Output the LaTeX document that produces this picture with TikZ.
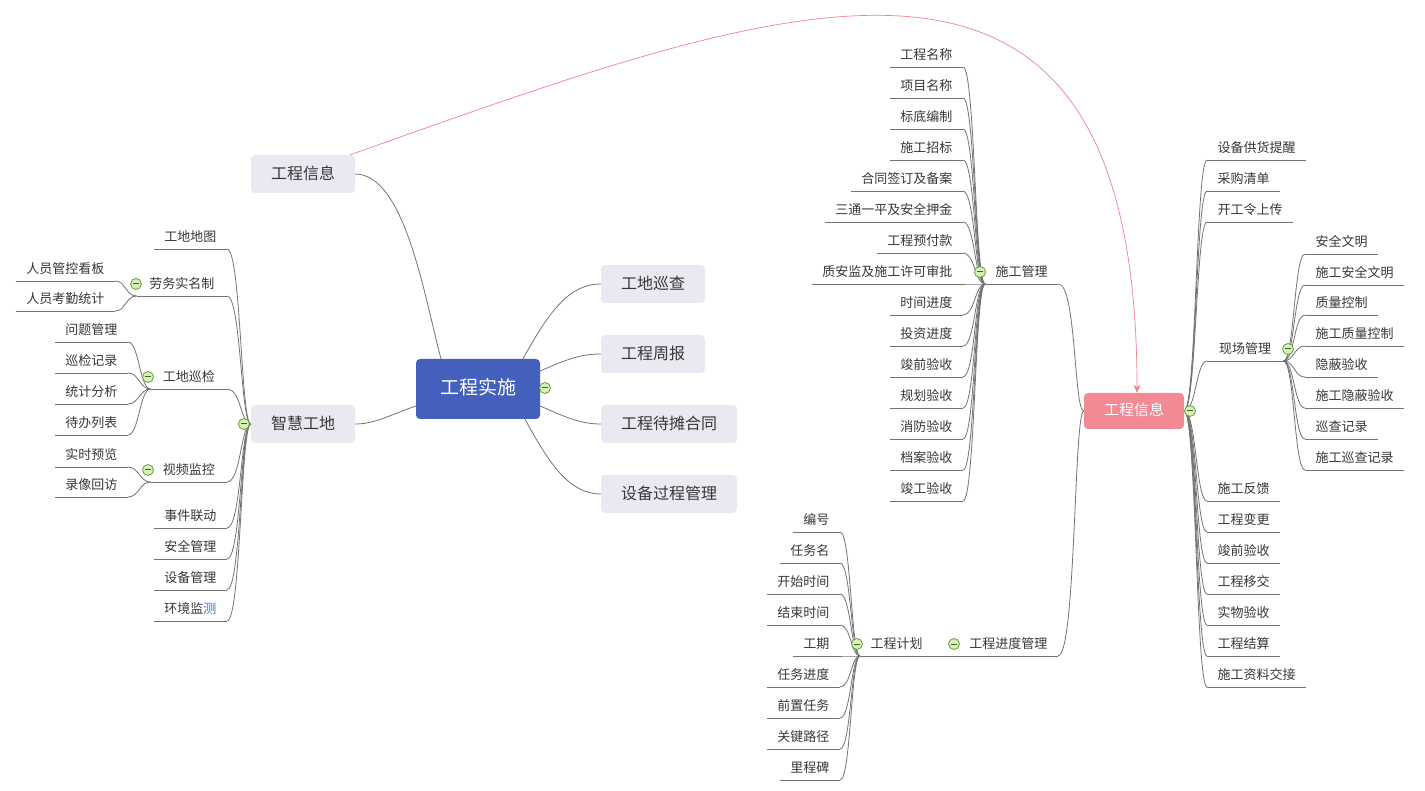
\documentclass[tikz,border=0pt]{standalone}
\usepackage{fontspec}
\newfontfamily\cjk{Noto Sans CJK SC}
\usetikzlibrary{arrows.meta}
\definecolor{linec}{RGB}{115,115,115}
\definecolor{txt}{RGB}{55,55,55}
\definecolor{lav}{RGB}{233,233,242}
\definecolor{cblue}{RGB}{66,96,188}
\definecolor{pinkc}{RGB}{242,137,147}
\definecolor{relc}{RGB}{240,130,142}
\definecolor{mkd}{RGB}{100,165,40}
\definecolor{mkf}{RGB}{215,238,190}
\definecolor{mkl}{RGB}{60,100,35}
\definecolor{measblue}{RGB}{60,120,200}
\begin{document}
\begin{tikzpicture}[x=1pt,y=-1pt,
 ln/.style={draw=linec,line width=0.8pt},
 lf/.style={font=\cjk\fontsize{13}{15}\selectfont,text=txt,inner xsep=10.5pt,inner ysep=4.5pt,text height=10.5pt,text depth=2.5pt},
 lfl/.style={lf,anchor=south east},
 lfr/.style={lf,anchor=south west},
 topic/.style={font=\cjk\fontsize{16}{18}\selectfont,text=txt,fill=lav,rounded corners=4pt,minimum height=38pt,inner xsep=20pt,inner ysep=0pt,text height=13.5pt,text depth=2.5pt},
 mk/.style={circle,draw=mkd,fill=mkf,line width=0.8pt,minimum size=11pt,inner sep=0pt,
   path picture={\draw[mkl,line width=1pt] ([xshift=-3pt]path picture bounding box.center) -- ([xshift=3pt]path picture bounding box.center);}},
]
\path[use as bounding box,fill=white] (0,0) rectangle (1425,791);

% central and main topics
\node[font=\cjk\fontsize{19}{21}\selectfont,text=white,fill=cblue,rounded corners=4pt,minimum width=124pt,minimum height=60pt,inner sep=0pt,text height=14pt,text depth=3pt] (c) at (478,389) {工程实施};
\node[topic] (i1) at (303,174) {工程信息};
\node[topic] (zh) at (303,424) {智慧工地};
\node[topic] (g1) at (653,284) {工地巡查};
\node[topic] (g2) at (653,354) {工程周报};
\node[topic] (g3) at (669,424) {工程待摊合同};
\node[topic] (g4) at (669,494) {设备过程管理};
\node[font=\cjk\fontsize{15}{17}\selectfont,text=white,fill=pinkc,rounded corners=4pt,minimum width=100pt,minimum height=36pt,inner sep=0pt,text height=12.5pt,text depth=2.5pt] (p) at (1134,411) {工程信息};

% 智慧工地 subtree
\node[lfl] (zl1) at (227,249) {工地地图};
\node[lfl,inner xsep=12.5pt] (zl2) at (227,296) {劳务实名制};
\node[lfl,inner xsep=12pt] (zl3) at (227,389) {工地巡检};
\node[lfl,inner xsep=12pt] (zl4) at (227,482) {视频监控};
\node[lfl] (zl5) at (227,528) {事件联动};
\node[lfl] (zl6) at (227,559) {安全管理};
\node[lfl] (zl7) at (227,590) {设备管理};
\node[lfl] (zl8) at (227,621) {环境监{\color{measblue}测}};
\node[lfl] (a1) at (115,281) {人员管控看板};
\node[lfl] (a2) at (115,311) {人员考勤统计};
\node[lfl] (b1) at (128,342) {问题管理};
\node[lfl] (b2) at (128,373) {巡检记录};
\node[lfl] (b3) at (128,404) {统计分析};
\node[lfl] (b4) at (128,435) {待办列表};
\node[lfl] (v1) at (128,467) {实时预览};
\node[lfl] (v2) at (128,497) {录像回访};

% 施工管理 subtree
\node[lfr] (sg) at (985,284) {施工管理};
\node[lfl] (s1) at (963,67) {工程名称};
\node[lfl] (s2) at (963,98) {项目名称};
\node[lfl] (s3) at (963,129) {标底编制};
\node[lfl] (s4) at (963,160) {施工招标};
\node[lfl] (s5) at (963,191) {合同签订及备案};
\node[lfl] (s6) at (963,222) {三通一平及安全押金};
\node[lfl] (s7) at (963,253) {工程预付款};
\node[lfl] (s8) at (963,284) {质安监及施工许可审批};
\node[lfl] (s9) at (963,315) {时间进度};
\node[lfl] (s10) at (963,346) {投资进度};
\node[lfl] (s11) at (963,377) {竣前验收};
\node[lfl] (s12) at (963,408) {规划验收};
\node[lfl] (s13) at (963,439) {消防验收};
\node[lfl] (s14) at (963,470) {档案验收};
\node[lfl] (s15) at (963,501) {竣工验收};

% 工程进度管理 subtree
\node[lfl] (jd) at (1058,656) {工程进度管理};
\node[lfr] (jh) at (860,656) {工程计划};
\node[lfl] (t1) at (840,532) {编号};
\node[lfl] (t2) at (840,563) {任务名};
\node[lfl] (t3) at (840,594) {开始时间};
\node[lfl] (t4) at (840,625) {结束时间};
\node[lfl] (t5) at (840,656) {工期};
\node[lfl] (t6) at (840,687) {任务进度};
\node[lfl] (t7) at (840,718) {前置任务};
\node[lfl] (t8) at (840,749) {关键路径};
\node[lfl] (t9) at (840,780) {里程碑};

% pink 工程信息 subtree
\node[lfr] (r1) at (1207,160) {设备供货提醒};
\node[lfr] (r2) at (1207,191) {采购清单};
\node[lfr] (r3) at (1207,222) {开工令上传};
\node[lfr,inner xsep=12pt] (xc) at (1207,361) {现场管理};
\node[lfr] (r5) at (1207,501) {施工反馈};
\node[lfr] (r6) at (1207,532) {工程变更};
\node[lfr] (r7) at (1207,563) {竣前验收};
\node[lfr] (r8) at (1207,594) {工程移交};
\node[lfr] (r9) at (1207,625) {实物验收};
\node[lfr] (r10) at (1207,656) {工程结算};
\node[lfr] (r11) at (1207,687) {施工资料交接};
\node[lfr] (x1) at (1305,254) {安全文明};
\node[lfr] (x2) at (1305,285) {施工安全文明};
\node[lfr] (x3) at (1305,315) {质量控制};
\node[lfr] (x4) at (1305,346) {施工质量控制};
\node[lfr] (x5) at (1305,377) {隐蔽验收};
\node[lfr] (x6) at (1305,408) {施工隐蔽验收};
\node[lfr] (x7) at (1305,439) {巡查记录};
\node[lfr] (x8) at (1305,470) {施工巡查记录};

% connectors from the central topic
\draw[ln] ([xshift=-37pt]c.north) .. controls +(-16,-59) and +(50,0) .. (i1.east);
\draw[ln] ([yshift=-17pt]c.west) .. controls +(-26,9) and +(20,0) .. (zh.east);
\draw[ln] ([xshift=45pt]c.north) .. controls +(27,-49) and +(-31,0) .. (g1.west);
\draw[ln] ([yshift=18pt]c.east) .. controls +(25,-11) and +(-21,0) .. (g2.west);
\draw[ln] ([yshift=-17pt]c.east) .. controls +(25,11) and +(-21,0) .. (g3.west);
\draw[ln] ([xshift=47pt]c.south) .. controls +(25,46) and +(-31,0) .. (g4.west);

% 智慧工地 connectors
\foreach \n in {zl1,zl2,zl3,zl4,zl5,zl6,zl7,zl8}
  \draw[ln] (zh.west) .. controls +(-10,0) and +(14,0) .. (\n.south east);
\foreach \n in {a1,a2}
  \draw[ln] (zl2.south west) .. controls +(-11,0) and +(11,0) .. (\n.south east);
\foreach \n in {b1,b2,b3,b4}
  \draw[ln] (zl3.south west) .. controls +(-11,0) and +(11,0) .. (\n.south east);
\foreach \n in {v1,v2}
  \draw[ln] (zl4.south west) .. controls +(-11,0) and +(11,0) .. (\n.south east);

% pink box connectors
\draw[ln] (p.west) .. controls +(-10,0) and +(18,0) .. (sg.south east);
\draw[ln] (p.west) .. controls +(-10,0) and +(18,0) .. (jd.south east);
\draw[ln] (jd.south west) -- (jh.south east);
\foreach \n in {s1,s2,s3,s4,s5,s6,s7,s8,s9,s10,s11,s12,s13,s14,s15}
  \draw[ln] (sg.south west) .. controls +(-10,0) and +(12,0) .. (\n.south east);
\foreach \n in {t1,t2,t3,t4,t5,t6,t7,t8,t9}
  \draw[ln] (jh.south west) .. controls +(-9,0) and +(11,0) .. (\n.south east);
\foreach \n in {r1,r2,r3,xc,r5,r6,r7,r8,r9,r10,r11}
  \draw[ln] (p.east) .. controls +(12,0) and +(-11,0) .. (\n.south west);
\foreach \n in {x1,x2,x3,x4,x5,x6,x7,x8}
  \draw[ln] (xc.south east) .. controls +(11,0) and +(-11,0) .. (\n.south west);

% underlines
\foreach \n in {zl1,zl2,zl3,zl4,zl5,zl6,zl7,zl8,a1,a2,b1,b2,b3,b4,v1,v2,
  sg,s1,s2,s3,s4,s5,s6,s7,s8,s9,s10,s11,s12,s13,s14,s15,
  jd,jh,t1,t2,t3,t4,t5,t6,t7,t8,t9,
  r1,r2,r3,xc,r5,r6,r7,r8,r9,r10,r11,x1,x2,x3,x4,x5,x6,x7,x8}
  \draw[ln] (\n.south west) -- (\n.south east);

% relationship arrow
\draw[relc,line width=0.7pt,-{Stealth[length=8pt,width=7pt]}] ([xshift=-5pt]i1.north east) .. controls (795,-3) and (1137,-133) .. ([xshift=3pt]p.north);

% collapse markers
\node[mk] (mc) at (545,388) {};
\node[mk] (mz) at (244,424) {};
\node[mk] (mz2) at (136,284) {};
\node[mk] (mz3) at (148,377) {};
\node[mk] (mz4) at (148,470) {};
\node[mk] (ms) at (980,272) {};
\node[mk] (mj) at (954,644) {};
\node[mk] (mh) at (857,644) {};
\node[mk] (mp) at (1190,411) {};
\node[mk] (mx) at (1288,349) {};
\end{tikzpicture}
\end{document}
